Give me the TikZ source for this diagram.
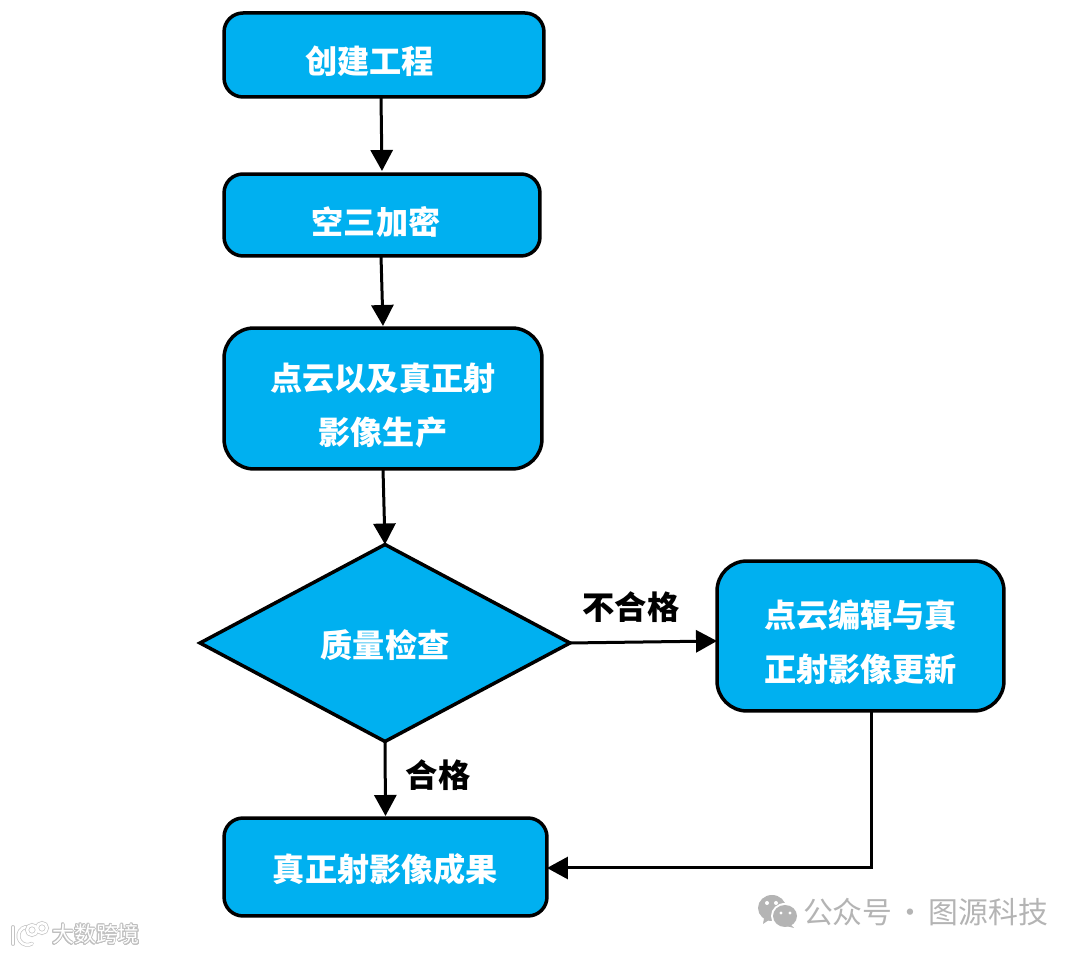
\documentclass[tikz,border=0pt]{standalone}
\usepackage{fontspec}
\setmainfont{Noto Sans CJK SC}
\usepackage[copies]{contour}
\usepackage{tikz}
\usetikzlibrary{shapes.geometric,arrows.meta}
\definecolor{boxfill}{HTML}{00B0F0}
\definecolor{wmgray}{HTML}{B4B4B4}
\contourlength{0.55pt}
\newcommand{\nudge}[1]{\rule{0pt}{\dimexpr0.88em+#1+#1\relax}}

\begin{document}
\begin{tikzpicture}[x=0.02cm,y=-0.02cm,
    base/.style={draw=black,line width=0.07cm,fill=boxfill,text=white,outer sep=0pt,inner sep=0pt,
      font=\fontsize{18.3}{30.7}\selectfont\bfseries,align=center},
    stepbox/.style={base,rectangle,rounded corners=0.38cm},
    bigbox/.style={base,rectangle,rounded corners=0.6cm},
    checkbox/.style={base,diamond,aspect=1.9,minimum width=7.4cm,minimum height=3.94cm},
    flow/.style={line width=0.06cm,-{Triangle[length=0.42cm,width=0.44cm]}},
    tag/.style={font=\fontsize{18.4}{22}\selectfont\bfseries,inner sep=0pt},
    wmark/.style={font=\fontsize{17}{20}\selectfont,text=wmgray,inner sep=0pt},
    logo/.style={draw=wmgray!80,double=white,line width=0.014cm,double distance=0.05cm,line cap=round}]
  \useasboundingbox (0,0) rectangle (1080,955);

  \path
  (384,55) node[stepbox,minimum width=6.4cm,minimum height=1.68cm](create) {\nudge{0.12cm}创建工程\hspace*{0.58cm}}
  (382,215) node[stepbox,minimum width=6.32cm,minimum height=1.64cm](aerial) {\nudge{0.14cm}空三加密\hspace*{0.24cm}}
  (383,398.5) node[bigbox,minimum width=6.36cm,minimum height=2.82cm](product) {\nudge{0.14cm}点云以及真正射\\影像生产}
  (385,643) node[checkbox](check) {\nudge{0.04cm}质量检查}
  (860.5,636) node[bigbox,minimum width=5.74cm,minimum height=3cm](update) {\nudge{0.11cm}点云编辑与真\\正射影像更新}
  (385.5,867) node[stepbox,minimum width=6.46cm,minimum height=1.96cm](result) {\nudge{0.04cm}真正射影像成果}
  ;
  \path
  (631,607) node[tag](failtag) {不合格}
  (438,775) node[tag](passtag) {合格}
  ;

  \draw[flow] ([xshift=-0.06cm]create.south) -- ([yshift=0.06cm]aerial.north);
  \draw[flow] ([xshift=-0.02cm]aerial.south) -- ([yshift=0.04cm]product.north);
  \draw[flow] (product.south) -- (check.north);
  \draw[flow] (check.east) -- ([yshift=-0.1cm]update.west);
  \draw[flow] (check.south) -- ([yshift=0.04cm]result.north);
  \coordinate (turn) at (871,868);
  \draw[flow] (update.south -| turn) -- (turn) -- (turn -| result.east);

  \fill[wmgray] (772,908) ellipse[x radius=14,y radius=13];
  \fill[wmgray] (764,918) -- (769,920) -- (763,924) -- cycle;
  \fill[white] (785,916) ellipse[x radius=14,y radius=13];
  \fill[wmgray] (785,916) ellipse[x radius=12,y radius=11];
  \fill[wmgray] (790,924) -- (794,928) -- (786,926) -- cycle;
  \fill[white] (767,903) circle[radius=2] (776,903) circle[radius=2]
    (781,913) circle[radius=1.6] (790,913) circle[radius=1.6];
  \path (925.5,912) node[wmark](source) {公众号\kern0.06cm·\kern0.06cm图源科技};

  \draw[logo] (13,927) -- (13,944);
  \draw[logo] (29,927) arc[start angle=280,end angle=60,radius=9];
  \draw[logo] (32,930) circle[radius=5] (42,928) circle[radius=5];
  \path (96,935) node[inner sep=0pt,font=\fontsize{12.5}{16}\selectfont,text=white](brand) {\contour{wmgray!85}{大数跨境}};
\end{tikzpicture}
\end{document}
